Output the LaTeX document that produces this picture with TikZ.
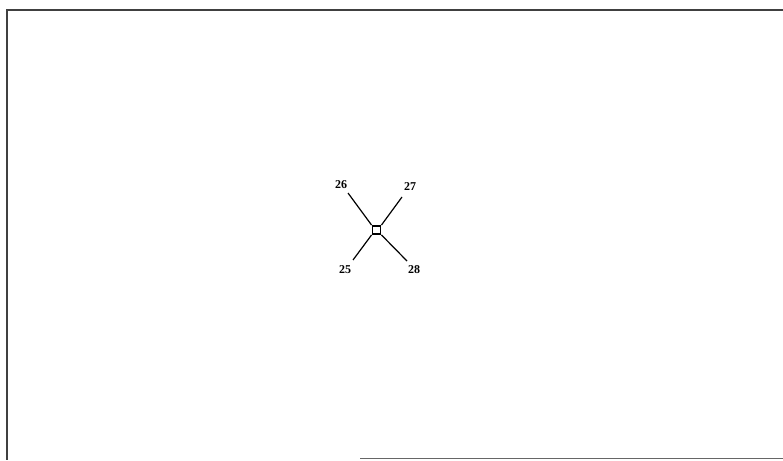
\documentclass[tikz,border=0pt]{standalone}
\usepackage{fontspec}
\setmainfont{Liberation Serif}
\begin{document}
\begin{tikzpicture}[x=1pt,y=-1pt,
  lbl/.style={font=\bfseries\fontsize{12}{13}\selectfont, inner sep=0pt},
  frame/.style={line width=1.4pt, draw=black!75},
  arm/.style={line width=1.2pt}]
\useasboundingbox (0,0) rectangle (783,460);
\draw[frame] (6,10) -- (783,10);
\draw[frame] (7,10) -- (7,460);
\draw[frame, draw=black!60] (360,458.5) -- (783,458.5);
\node[draw, line width=1.8pt, minimum size=8pt, inner sep=0pt] (c) at (376.5,230) {};
\coordinate (e26) at (348,193);
\coordinate (e27) at (402,197);
\coordinate (e25) at (353,260);
\coordinate (e28) at (407,261);
\draw[arm] (c.north west) -- (e26);
\draw[arm] (c.north east) -- (e27);
\draw[arm] (c.south west) -- (e25);
\draw[arm] (c.south east) -- (e28);
\node[lbl] (l26) at (341,185) {26};
\node[lbl] (l27) at (410,187) {27};
\node[lbl] (l25) at (345,270) {25};
\node[lbl] (l28) at (414,270) {28};
\end{tikzpicture}
\end{document}
